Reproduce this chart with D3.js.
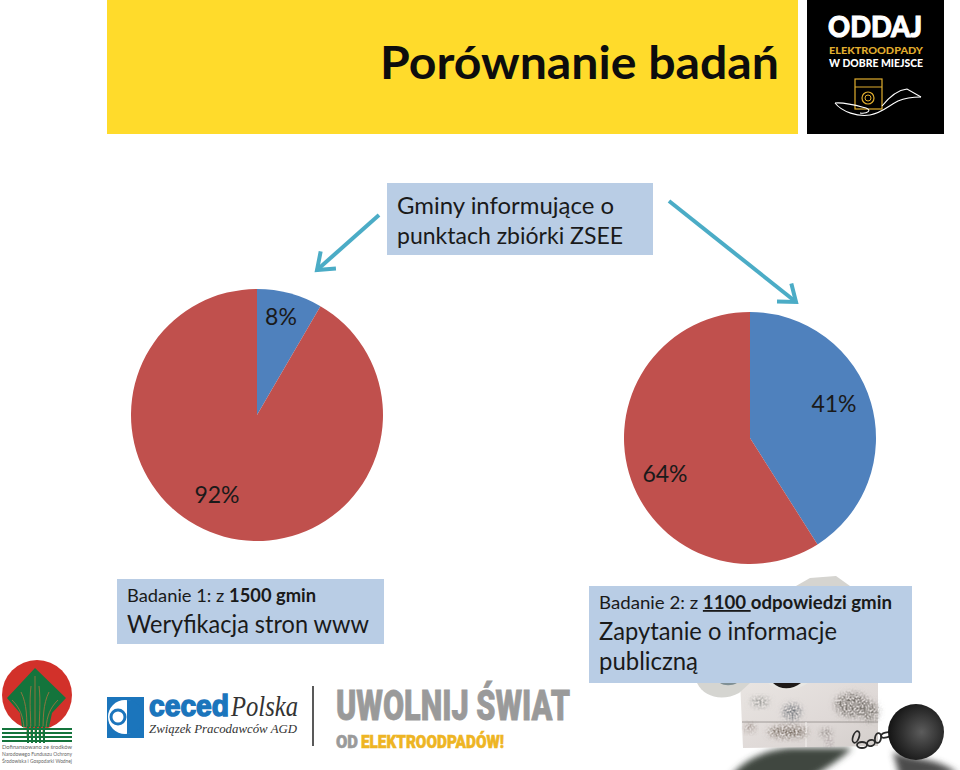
<!DOCTYPE html>
<html>
<head>
<meta charset="utf-8">
<script src="https://cdn.jsdelivr.net/npm/d3@7"></script>
<style>
  html, body { margin: 0; background: #fff; }
  svg { display: block; }
  text { font-family: Lato, "Open Sans", sans-serif; fill: #1a1a1a; }
</style>
</head>
<body>
<svg width="960" height="770"></svg>
<script>
// values. second pie is drawn 41/59 but labelled 64%, as in the slide
var sliceNames = ["tak", "nie"];
var study1Values = [8.4, 91.6];
var study1Labels = ["8%", "92%"];
var study2Values = [41, 59];
var study2Labels = ["41%", "64%"];

var BLUE = "#4f81bd", RED = "#c0504d", BOX = "#b9cde5", ARROW = "#4bacc6";
var NARROW = "'Liberation Sans Narrow', Roboto, sans-serif";
var SERIF = "'Liberation Serif', serif";

var svg = d3.select("svg");

var color = d3.scaleOrdinal().domain(sliceNames).range([BLUE, RED]);
var pie = d3.pie().sort(null);

function drawPie(values, labels, cx, cy, labelPos) {
  var g = svg.append("g").attr("transform", "translate(" + cx + "," + cy + ")");
  var arc = d3.arc().innerRadius(0).outerRadius(126);
  g.selectAll("path")
    .data(pie(values))
    .enter().append("path")
      .attr("d", arc)
      .attr("fill", function(d, i) { return color(sliceNames[i]); });
  g.selectAll("text")
    .data(labels)
    .enter().append("text")
      .attr("x", function(d, i) { return labelPos[i][0]; })
      .attr("y", function(d, i) { return labelPos[i][1]; })
      .attr("text-anchor", "middle")
      .attr("font-size", 23)
      .text(function(d) { return d; });
}

function label(x, y, size, str, weight, parent) {
  return (parent || svg).append("text")
    .attr("x", x).attr("y", y)
    .attr("font-size", size)
    .attr("font-weight", weight || 400)
    .text(str);
}

// text squeezed to the width it has in the slide
function fit(sel, w) {
  return sel.attr("textLength", w).attr("lengthAdjust", "spacingAndGlyphs");
}

function rect(x, y, w, h, fill, parent) {
  return (parent || svg).append("rect")
    .attr("x", x).attr("y", y).attr("width", w).attr("height", h).attr("fill", fill);
}

function ink(d, col, w, parent) {
  return (parent || svg).append("path").attr("d", d)
    .attr("fill", "none").attr("stroke", col).attr("stroke-width", w);
}

// header
rect(107, 0, 691, 134, "#ffdb2b");
fit(label(380, 79, 46, "Porównanie badań", 700), 399).style("fill", "#0d0d0d");

// black logo top right
rect(807, 0, 137, 134, "#000");
var oddaj = svg.append("g");
fit(label(828, 37, 29, "ODDAJ", 900, oddaj), 94).style("fill", "#fff").attr("stroke", "#fff").attr("stroke-width", 1);
fit(label(829, 53.5, 10, "ELEKTROODPADY", 900, oddaj), 94).style("fill", "#e0ad2e");
fit(label(829, 67, 10.5, "W DOBRE MIEJSCE", 900, oddaj), 94).style("fill", "#fff");
rect(855, 79, 27, 30, "none", oddaj).attr("stroke", "#e0ad2e").attr("stroke-width", 1.2);
oddaj.append("line").attr("x1", 855).attr("x2", 882).attr("y1", 87).attr("y2", 87).attr("stroke", "#e0ad2e");
oddaj.append("circle").attr("cx", 868).attr("cy", 98).attr("r", 6).attr("fill", "none").attr("stroke", "#e0ad2e").attr("stroke-width", 1.2);
oddaj.append("circle").attr("cx", 868).attr("cy", 98).attr("r", 3).attr("fill", "none").attr("stroke", "#e0ad2e");
ink("M835 103 C845 102 855 105 866 108 C872 110 868 114 860 113", "#fff", 1.1, oddaj);
ink("M835 103 C842 112 858 117 870 115 C882 113 888 106 898 101 C905 98 914 97 921 97", "#fff", 1.1, oddaj);
ink("M882 106 C890 96 898 90 907 89 L921 97", "#fff", 1.1, oddaj);

// washing machine behind box of study 2
var defs = svg.append("defs");
var grad = defs.append("linearGradient").attr("id", "wm").attr("x1", 0).attr("x2", 1).attr("y1", 0).attr("y2", 1);
grad.append("stop").attr("offset", 0).attr("stop-color", "#e9e5e2");
grad.append("stop").attr("offset", 0.6).attr("stop-color", "#dfd9d7");
grad.append("stop").attr("offset", 1).attr("stop-color", "#d3cecb");
var ballGrad = defs.append("radialGradient").attr("id", "ball").attr("cx", 0.6).attr("cy", 0.5).attr("r", 0.65);
ballGrad.append("stop").attr("offset", 0).attr("stop-color", "#5c5c5c");
ballGrad.append("stop").attr("offset", 0.55).attr("stop-color", "#2f2f2f");
ballGrad.append("stop").attr("offset", 1).attr("stop-color", "#0e0e0e");
defs.append("filter").attr("id", "soft").attr("x", "-30%").attr("y", "-60%").attr("width", "160%").attr("height", "220%")
  .append("feGaussianBlur").attr("stdDeviation", 3);
// grime: blurred blob punched through a noise mask
var stain = defs.append("filter").attr("id", "stain").attr("x", "-40%").attr("y", "-40%").attr("width", "180%").attr("height", "180%");
stain.append("feTurbulence").attr("type", "fractalNoise").attr("baseFrequency", 0.5).attr("numOctaves", 2).attr("seed", 4).attr("result", "n");
stain.append("feColorMatrix").attr("in", "n").attr("type", "matrix")
  .attr("values", "0 0 0 0 0  0 0 0 0 0  0 0 0 0 0  2.4 0 0 0 -0.7").attr("result", "mask");
stain.append("feGaussianBlur").attr("in", "SourceGraphic").attr("stdDeviation", 3).attr("result", "b");
stain.append("feComposite").attr("in", "b").attr("in2", "mask").attr("operator", "in").attr("result", "c");
stain.append("feGaussianBlur").attr("in", "c").attr("stdDeviation", 0.5);

function blob(cx, cy, rx, ry, fill, filter) {
  svg.append("ellipse").attr("cx", cx).attr("cy", cy).attr("rx", rx).attr("ry", ry)
    .attr("fill", fill).attr("filter", "url(#" + filter + ")");
}

// shadow on the floor runs off the bottom of the slide
svg.append("path").attr("d", "M728 780 C742 760 765 750 790 748 L852 748 C842 758 825 770 806 780 Z")
  .attr("fill", "#3f4740").attr("filter", "url(#soft)");
svg.append("path").attr("d", "M893 752 C915 760 940 758 958 774 L900 778 Z")
  .attr("fill", "#4c4c4c").attr("filter", "url(#soft)");

svg.append("path").attr("d", "M740 680 L878 680 L878 746 L743 748 Z").attr("fill", "url(#wm)");
ink("M742 722 L878 722", "#8f8a88", 0.8);
ink("M806 722 L806 747", "#f6f3f1", 1);
blob(792, 712, 9, 8, "#707379", "stain");
blob(852, 705, 17, 12, "#75706a", "stain");
blob(870, 712, 9, 10, "#807c76", "stain");
blob(788, 732, 20, 6, "#75695f", "stain");
blob(750, 728, 5, 4, "#85766f", "stain");
blob(826, 733, 6, 4, "#877f7c", "stain");
blob(829, 743, 3, 3, "#84727a", "stain");
blob(760, 702, 9, 5, "#989894", "stain");
svg.append("path").attr("d", "M810 578 L836 576 L850 586 L796 586 Z").attr("fill", "#d5d4d0");
// doors
svg.append("path").attr("d", "M697 683 C704 697 722 702 739 693 L750 683 Z").attr("fill", "#d5d5d1");
svg.append("path").attr("d", "M720 683 C724 686 732 686 737 683 Z").attr("fill", "#7f8f94");
svg.append("path").attr("d", "M768 683 C776 692 795 692 808 683 Z").attr("fill", "#e8e7e3");
svg.append("path").attr("d", "M773 683 C780 690 792 690 801 683 Z").attr("fill", "#1e1a18");
// chain
svg.selectAll(".link")
  .data([[856, 737, 3, 6, 20], [862, 745, 5, 3, 0], [871, 743, 4, 3, -20], [878, 738, 3, 5, 10], [886, 735, 5, 2.5, -15]])
  .enter().append("ellipse")
    .attr("class", "link")
    .attr("cx", function(d) { return d[0]; })
    .attr("cy", function(d) { return d[1]; })
    .attr("rx", function(d) { return d[2]; })
    .attr("ry", function(d) { return d[3]; })
    .attr("transform", function(d) { return "rotate(" + d[4] + " " + d[0] + " " + d[1] + ")"; })
    .attr("fill", "none").attr("stroke", "#2a2a2a").attr("stroke-width", 1.8);
svg.append("circle").attr("cx", 916).attr("cy", 732).attr("r", 28).attr("fill", "url(#ball)");

// text boxes
rect(387, 183, 266, 72, BOX);
fit(label(397, 214, 24, "Gminy informujące o"), 217);
fit(label(397, 244, 24, "punktach zbiórki ZSEE"), 226);

rect(117, 579, 267, 65, BOX);
var b1 = fit(label(127, 602, 18, "Badanie 1: z "), 189);
b1.append("tspan").attr("font-weight", 700).text("1500 gmin");
fit(label(127, 633, 24.5, "Weryfikacja stron www"), 242);

rect(589, 586, 323, 97, BOX);
var b2 = fit(label(599, 609, 18, "Badanie 2:  z "), 293);
b2.append("tspan").attr("font-weight", 700).attr("text-decoration", "underline").text("1100 ");
b2.append("tspan").attr("font-weight", 700).text("odpowiedzi gmin");
fit(label(599, 640, 24.5, "Zapytanie o informacje"), 238);
fit(label(599, 670, 24.5, "publiczną"), 99);

// arrows from the middle box
function arrow(x1, y1, x2, y2) {
  var a = Math.atan2(y2 - y1, x2 - x1), len = 19, spread = 0.65;
  var head = d3.path();
  head.moveTo(x2 - len * Math.cos(a - spread), y2 - len * Math.sin(a - spread));
  head.lineTo(x2, y2);
  head.lineTo(x2 - len * Math.cos(a + spread), y2 - len * Math.sin(a + spread));
  ink("M" + x1 + " " + y1 + "L" + x2 + " " + y2, ARROW, 4);
  ink(head.toString(), ARROW, 4);
}
arrow(379, 215, 317, 270);
arrow(669, 201, 796, 302);

// the two pies
drawPie(study1Values, study1Labels, 257, 415, [[24, -90], [-40, 88]]);
drawPie(study2Values, study2Labels, 750, 438, [[84, -26], [-85, 44]]);

// bottom left: NFOSiGW logo
var nf = svg.append("g");
nf.append("circle").attr("cx", 37).attr("cy", 695).attr("r", 35).attr("fill", "#d2312a");
nf.append("path").attr("d", "M35 668 L66 698 L52 713 L49 727 L22 727 L20 713 L7 698 Z").attr("fill", "#14743c");
ink("M35 676 L35 738 M31 686 C29 702 31 718 31 738 M39 686 C41 702 39 718 39 738", "#9a7440", 0.9, nf);
ink("M21 692 C27 704 27 718 27 738 M49 692 C43 704 43 718 43 738", "#9a7440", 0.9, nf);
ink("M12 700 C20 708 23 716 24 728 M58 700 C50 708 47 716 46 728", "#9a7440", 0.9, nf);
d3.range(4).forEach(function(i) {
  rect(2, 728 + i * 4, 70, 2, "#14743c", nf);
});
d3.range(5).forEach(function(i) {
  rect(27 + i * 4, 726, 2, 17, "#14743c", nf);
});
fit(label(2, 749, 6, "Dofinansowano ze środków", 400, nf), 70).style("fill", "#666");
fit(label(2, 756, 6, "Narodowego Funduszu Ochrony", 400, nf), 70).style("fill", "#666");
fit(label(2, 763, 6, "Środowiska i Gospodarki Wodnej", 400, nf), 70).style("fill", "#666");

// ceced logo
var ce = svg.append("g");
rect(107, 697, 37, 41, "#1b75bc", ce);
ce.append("circle").attr("cx", 125).attr("cy", 717).attr("r", 17).attr("fill", "#fff");
ce.append("path").attr("d", "M127 700 A17 17 0 0 1 127 734 Z").attr("fill", "#1b75bc");
ce.append("circle").attr("cx", 118).attr("cy", 717).attr("r", 7).attr("fill", "none").attr("stroke", "#1b75bc").attr("stroke-width", 3);
fit(label(149, 716, 30, "ceced", 900, ce), 80).style("fill", "#1b75bc").style("font-family", "'Liberation Sans', sans-serif").attr("stroke", "#1b75bc").attr("stroke-width", 1.5);
fit(label(231, 716, 30, "Polska", 400, ce), 67).style("font-family", SERIF).style("font-style", "italic").style("fill", "#333");
fit(label(149, 733, 13, "Związek Pracodawców AGD", 400, ce), 148).style("font-family", SERIF).style("font-style", "italic").style("fill", "#333");
ce.append("line").attr("x1", 313).attr("x2", 313).attr("y1", 686).attr("y2", 746).attr("stroke", "#222").attr("stroke-width", 1.5);

// campaign logo
var uw = svg.append("g");
fit(label(336, 720, 42, "UWOLNIJ ŚWIAT", 900, uw), 234).style("fill", "#9a9a9a").style("font-family", NARROW).attr("stroke", "#9a9a9a").attr("stroke-width", 0.8);
fit(label(336, 747.5, 19, "OD", 900, uw), 22).style("fill", "#9a9a9a").style("font-family", NARROW).attr("stroke", "#9a9a9a").attr("stroke-width", 0.6);
fit(label(361, 747.5, 19, "ELEKTROODPADÓW!", 900, uw), 143).style("fill", "#eeb523").style("font-family", NARROW).attr("stroke", "#eeb523").attr("stroke-width", 0.6);
</script>
</body>
</html>
